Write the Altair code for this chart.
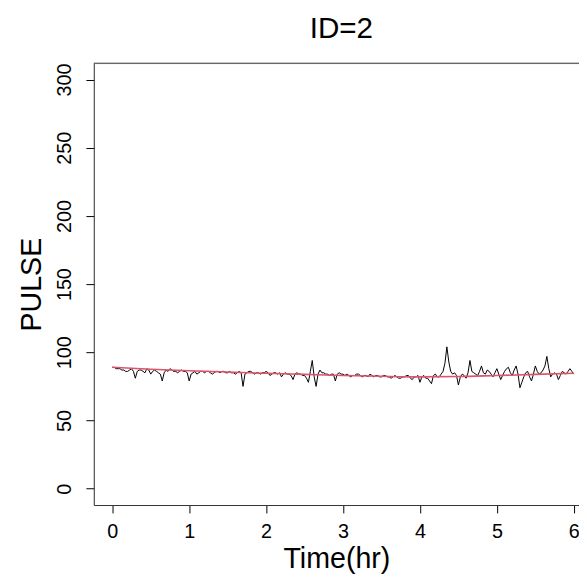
import altair as alt
import pandas as pd

# Observed pulse series, sampled every 1.5 minutes (0.025 hr) from 0 to 6 hr
pulse = [89, 89, 88, 88, 88, 87, 87, 86, 86, 87,
         88, 86, 81, 86, 87, 87, 86, 85, 88, 87,
         84, 86, 87, 86, 85, 84, 79, 85, 87, 86,
         88, 87, 86, 86, 85, 86, 87, 86, 86, 85,
         79, 84, 85, 86, 84, 85, 86, 86, 85, 86,
         86, 85, 84, 85, 86, 86, 85, 86, 86, 85,
         85, 86, 85, 85, 84, 85, 86, 85, 75, 84,
         85, 86, 86, 85, 84, 85, 85, 84, 85, 85,
         86, 85, 83, 84, 85, 85, 84, 85, 82, 84,
         85, 84, 84, 83, 80, 84, 85, 84, 84, 83,
         83, 81, 78, 86, 94, 82, 75, 84, 87, 85,
         85, 84, 84, 83, 84, 84, 79, 84, 85, 84,
         84, 83, 84, 83, 82, 83, 83, 84, 84, 83,
         82, 83, 83, 82, 84, 83, 82, 83, 83, 82,
         82, 83, 83, 82, 82, 81, 82, 83, 82, 81,
         81, 82, 82, 83, 83, 81, 80, 82, 82, 83,
         78, 82, 83, 81, 81, 79, 77, 83, 84, 82,
         82, 84, 86, 92, 104, 93, 86, 84, 85, 83,
         76, 82, 84, 83, 81, 85, 94, 86, 85, 84,
         83, 86, 90, 85, 84, 87, 86, 84, 82, 85,
         88, 84, 80, 83, 86, 88, 89, 85, 83, 87,
         90, 84, 74, 78, 82, 85, 86, 82, 79, 84,
         90, 86, 84, 85, 87, 90, 97, 88, 82, 84,
         85, 84, 80, 83, 86, 85, 84, 86, 88, 86,
         84]
# sampling grid (hours)
time_hr = [round(i * 0.025, 3) for i in range(len(pulse))]

# Smoothed trend (red line)
trend_time = [0.0, 0.5, 1.0, 1.5, 2.0, 2.5, 3.0, 3.5, 4.0, 4.5, 5.0, 5.5, 6.0]
trend_pulse = [89.0, 87.6, 86.5, 85.5, 84.6, 83.8, 83.0, 82.4, 82.0, 82.2, 83.0, 83.8, 84.6]

x_ticks = [0, 1, 2, 3, 4, 5, 6]
y_ticks = [0, 50, 100, 150, 200, 250, 300]

obs = pd.DataFrame({"t": time_hr, "pulse": pulse})
trend = pd.DataFrame({"t": trend_time, "pulse": trend_pulse})

FONT = "Liberation Sans"

x_scale = alt.Scale(domain=[-0.24, 6.0677], nice=False, zero=False)
y_scale = alt.Scale(domain=[-12, 312], nice=False, zero=False)

x_axis = alt.Axis(values=x_ticks, format="d", title="Time(hr)", grid=False,
                  tickColor="black", tickSize=8, labelFontSize=20, titleFontSize=29,
                  labelFont=FONT, titleFont=FONT, labelColor="black", titleColor="black",
                  titleFontWeight="normal", domainColor="#333333", labelPadding=9,
                  titlePadding=3, labelFlush=False)
y_axis = alt.Axis(values=y_ticks, format="d", title="PULSE", grid=False,
                  tickColor="black", tickSize=8, labelFontSize=20, titleFontSize=29,
                  labelFont=FONT, titleFont=FONT, labelColor="black", titleColor="black",
                  titleFontWeight="normal", domainColor="#333333", labelAngle=270,
                  labelAlign="center", labelBaseline="bottom", labelPadding=12,
                  titlePadding=8, labelFlush=False)

obs_line = alt.Chart(obs).mark_line(color="black", strokeWidth=1, clip=True).encode(
    x=alt.X("t:Q", scale=x_scale, axis=x_axis),
    y=alt.Y("pulse:Q", scale=y_scale, axis=y_axis),
)

trend_line = alt.Chart(trend).mark_line(color="#DF536B", strokeWidth=1.6,
                                        interpolate="monotone", clip=True).encode(
    x=alt.X("t:Q", scale=x_scale),
    y=alt.Y("pulse:Q", scale=y_scale),
)

top_border = alt.Chart(pd.DataFrame({"top": [312]})).mark_rule(
    color="#333333", strokeWidth=1).encode(y=alt.Y("top:Q", scale=y_scale))

chart = alt.layer(obs_line, trend_line, top_border).properties(
    width=492,
    height=448,
    title=alt.TitleParams("ID=2", font=FONT, fontSize=30, fontWeight="normal",
                          color="black", offset=19, dx=5),
    autosize=alt.AutoSizeParams(type="none"),
    padding={"left": 87, "top": 52, "right": 0, "bottom": 71},
).configure_view(stroke=None).configure(background="white")

chart.save("out.html", embed_options={"renderer": "svg", "actions": False})
